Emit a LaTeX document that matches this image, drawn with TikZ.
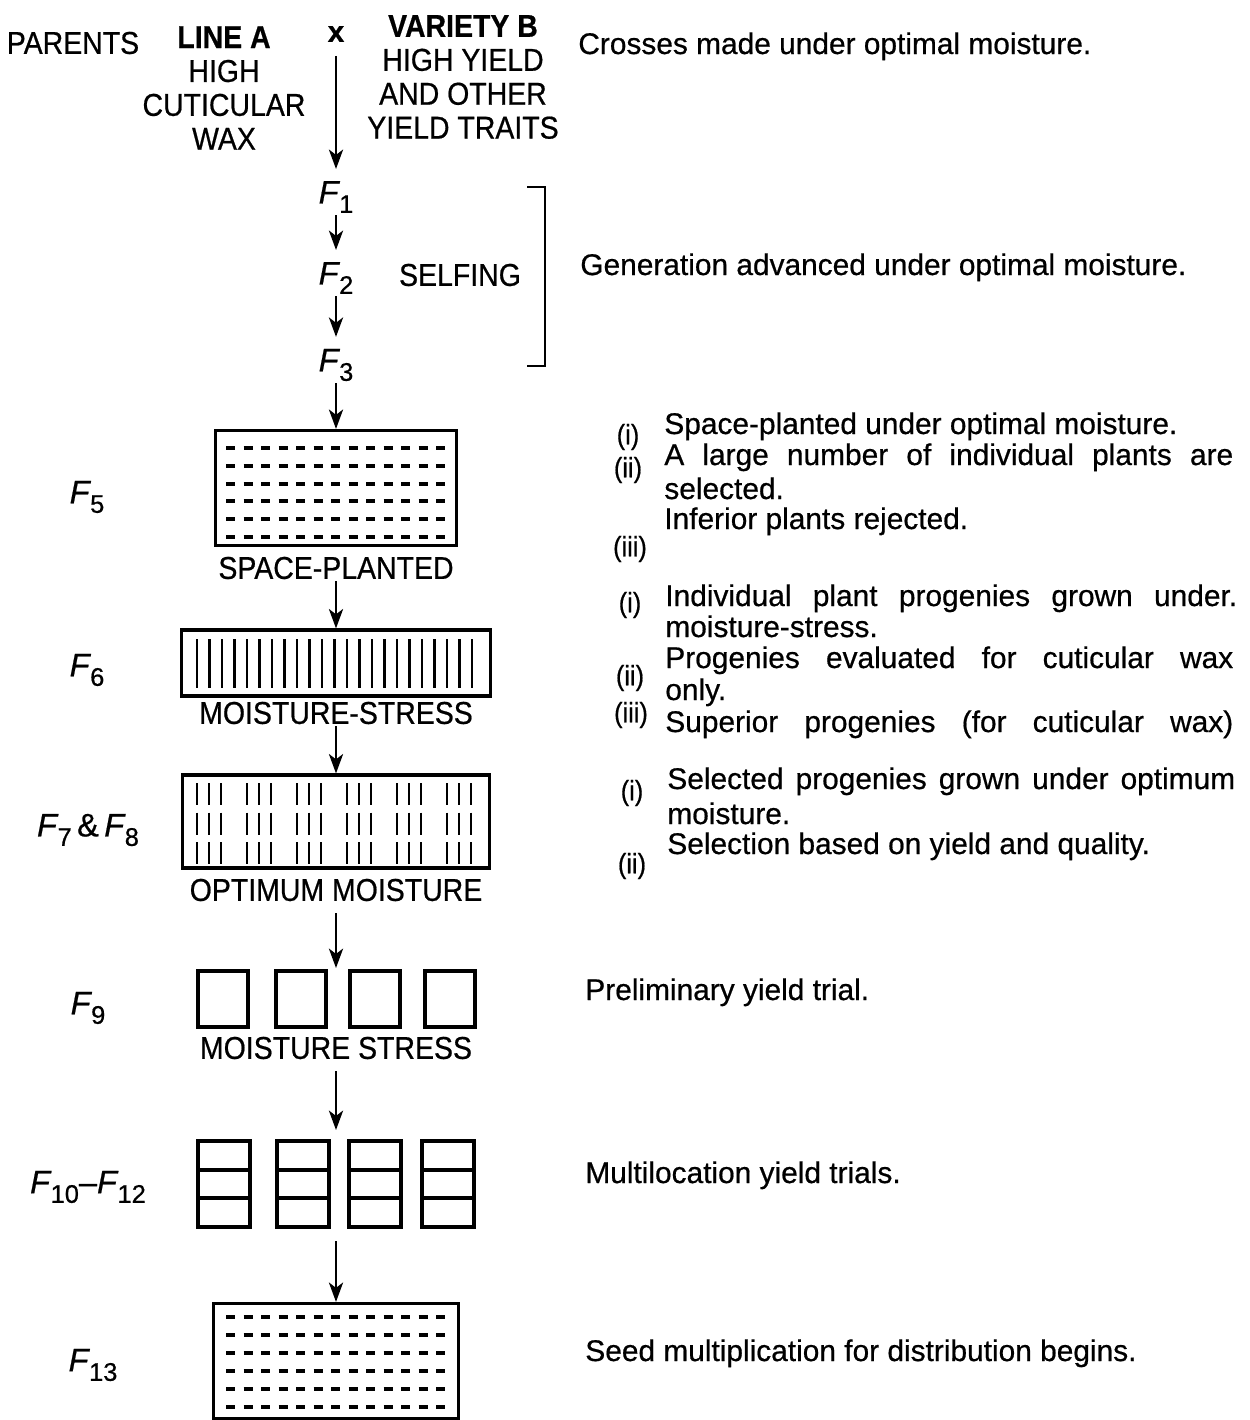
\documentclass[tikz,border=0pt]{standalone}
\usepackage{fontspec}
\setmainfont{Liberation Sans}[FakeBold=0.6]
\newfontfamily\capfont{Liberation Sans}[FakeStretch=0.9,FakeBold=0.6]
\usetikzlibrary{arrows.meta}

% generation label: italic F with a low subscript
\newcommand{\Fgen}[1]{\textit{F}\kern-0.5pt\raisebox{-0.55ex}{\fontsize{14.5}{14.5}\selectfont #1}}

\tikzset{
  caps/.style={font=\capfont\fontsize{18}{19.3}\selectfont, inner sep=1pt, align=center},
  note/.style={font=\fontsize{17}{20}\selectfont, anchor=base west, inner sep=0pt},
  num/.style={font=\capfont\fontsize{16}{18}\selectfont, inner sep=0pt},
  gen/.style={font=\fontsize{18.5}{20}\selectfont, inner sep=1pt},
  flow/.style={-{Stealth[length=11pt,width=8pt,inset=3pt]}, line width=1.7pt},
  field/.style={draw, line width=1.8pt, inner sep=0pt},
  plant/.style={line width=2.2pt},
  row/.style={line width=1.6pt},
}

\begin{document}
\begin{tikzpicture}[x=0.02cm, y=-0.02cm]
  \useasboundingbox (0,0) rectangle (1249,1420);

  % Parents and cross
  \node[caps] (parents) at (73,43) {PARENTS};
  \node[caps] (linea) at (224,88) {\textbf{LINE A}\\HIGH\\CUTICULAR\\WAX};
  \node[caps, font=\bfseries\fontsize{17}{19}\selectfont] (cross) at (336,34) {x};
  \node[caps] (varb) at (463,77) {\textbf{VARIETY B}\\HIGH YIELD\\AND OTHER\\YIELD TRAITS};

  % Early generations
  \node[gen] (f1) at (336,197) {\Fgen{1}};
  \node[gen] (f2) at (336,278) {\Fgen{2}};
  \node[gen] (f3) at (336,365) {\Fgen{3}};
  \node[caps] (selfing) at (460,275) {SELFING};
  \draw[line width=1.6pt] (527,187) -- (545,187) -- (545,366) -- (527,366);

  \draw[flow, shorten <=0.24cm, shorten >=0.2cm] (cross) -- (f1);
  \draw[flow, shorten >=0.2cm] (f1) -- (f2);
  \draw[flow, shorten >=0.2cm] (f2) -- (f3);

  % F5: space-planted
  \node[field, minimum width=4.82cm, minimum height=2.3cm] (spbox) at (336,488) {};
  \foreach \r in {0,...,5}
    \foreach \c in {0,...,12}
      \draw[plant] ({226+\c*17.5},{448+\r*17.8}) -- ++(9,0);
  \node[caps] (spl) at (336,568) {SPACE-PLANTED};
  \draw[flow] (f3) -- (spbox);

  % F6: moisture-stress rows
  \node[field, minimum width=6.18cm, minimum height=1.32cm] (msbox) at (336,663) {};
  \foreach \i in {0,...,22}
    \draw[row] ({197+\i*12.5},639) -- ++(0,49);
  \node[caps] (mst) at (336,713) {MOISTURE-STRESS};
  \draw[flow] (spl) -- (msbox);

  % F7 & F8: progeny rows
  \node[field, minimum width=6.14cm, minimum height=1.86cm] (opbox) at (336,821.5) {};
  \foreach \g in {0,...,5}
    \foreach \k in {0,1,2}
      \foreach \r in {0,1,2}
        \draw[row] ({197+\g*50+\k*12},{783+\r*29.5}) -- ++(0,22);
  \node[caps] (opt) at (336,890) {OPTIMUM MOISTURE};
  \draw[flow] (mst) -- (opbox);
  \coordinate (pyt) at (336,968);
  \draw[flow, shorten <=0.2cm] (opt) -- (pyt);

  % F9: preliminary plots
  \foreach \xl/\nm in {198/a,276/b,350/c,425/d}
    \node[field, minimum width=1.0cm, minimum height=1.12cm] (sq\nm) at ({\xl+25},999) {};
  \node[caps] (mss) at (336,1048) {MOISTURE STRESS};
  \coordinate (mlt) at (336,1130);
  \draw[flow, shorten <=0.2cm] (mss) -- (mlt);

  % F10--F12: multilocation plots
  \foreach \xl/\nm in {198/a,277/b,349/c,422/d} {
    \node[field, minimum width=1.04cm, minimum height=1.72cm] (ml\nm) at ({\xl+26},1184) {};
    \draw[line width=1.8pt] (\xl,1170) -- ++(52,0);
    \draw[line width=1.8pt] (\xl,1198) -- ++(52,0);
  }
  \coordinate (trl) at (336,1241);

  % F13: seed multiplication
  \node[field, minimum width=4.9cm, minimum height=2.3cm] (sdbox) at (336,1361) {};
  \foreach \r in {0,...,5}
    \foreach \c in {0,...,12}
      \draw[plant] ({226+\c*17.5},{1317+\r*18}) -- ++(9,0);
  \draw[flow] (trl) -- (sdbox);

  % Generation labels
  \node[gen] (g5) at (87,497) {\Fgen{5}};
  \node[gen] (g6) at (87,670) {\Fgen{6}};
  \node[gen] (g78) at (88,830) {\Fgen{7}\,\&\,\Fgen{8}};
  \node[gen] (g9) at (88,1008) {\Fgen{9}};
  \node[gen] (g1012) at (88,1187) {\Fgen{10}--\Fgen{12}};
  \node[gen] (g13) at (93,1365) {\Fgen{13}};

  % Notes
  \node[note] (t0) at (578,54) {Crosses made under optimal moisture.};
  \node[note] (t1) at (580,275) {Generation advanced under optimal moisture.};

  \node[num] (n5a) at (628,437) {(i)};
  \node[num] (n5b) at (628,470) {(ii)};
  \node[num] (n5c) at (630,549) {(iii)};
  \node[note] (t5a) at (664,434) {Space-planted under optimal moisture.};
  \node[note] (t5b) at (664,465) {\makebox[11.38cm][s]{A large number of individual plants are}};
  \node[note] (t5c) at (664,499) {selected.};
  \node[note] (t5d) at (664,529) {Inferior plants rejected.};

  \node[num] (n6a) at (630,605) {(i)};
  \node[num] (n6b) at (630,678) {(ii)};
  \node[num] (n6c) at (631,715) {(iii)};
  \node[note] (t6a) at (665,606) {\makebox[11.44cm][s]{Individual plant progenies grown under.}};
  \node[note] (t6b) at (665,637) {moisture-stress.};
  \node[note] (t6c) at (665,668) {\makebox[11.36cm][s]{Progenies evaluated for cuticular wax}};
  \node[note] (t6d) at (665,700) {only.};
  \node[note] (t6e) at (665,732) {\makebox[11.36cm][s]{Superior progenies (for cuticular wax)}};

  \node[num] (n7a) at (632,793) {(i)};
  \node[num] (n7b) at (632,866) {(ii)};
  \node[note] (t7a) at (667,789) {\makebox[11.36cm][s]{Selected progenies grown under optimum}};
  \node[note] (t7b) at (667,824) {moisture.};
  \node[note] (t7c) at (667,854) {Selection based on yield and quality.};

  \node[note] (t9) at (585,1000) {Preliminary yield trial.};
  \node[note] (t10) at (585,1183) {Multilocation yield trials.};
  \node[note] (t13) at (585,1361) {Seed multiplication for distribution begins.};
\end{tikzpicture}
\end{document}
